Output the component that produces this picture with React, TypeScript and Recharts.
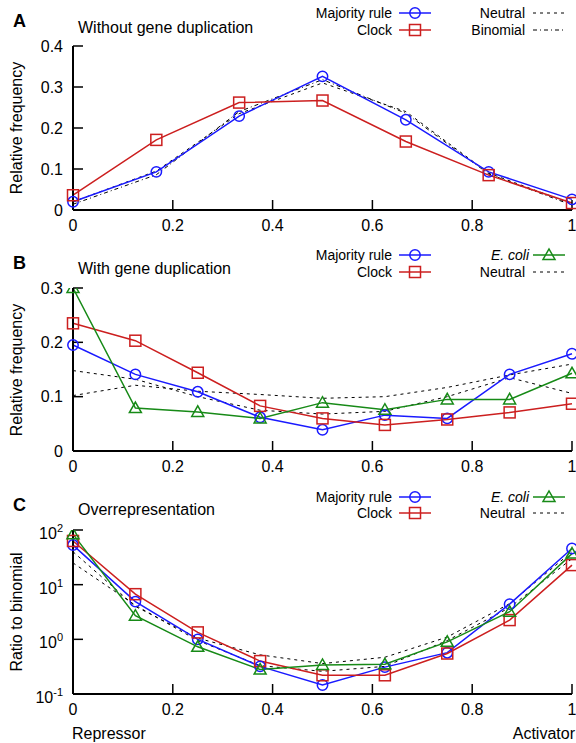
import React from 'react';
import { LineChart, Line, XAxis, YAxis } from 'recharts';

const FONT = 'Arial, "Liberation Sans", sans-serif';
const BLUE = '#1a1aff';
const RED = '#cc1f1f';
const GREEN = '#178a17';

// A: without gene duplication (fraction of activators, 6 inputs)
const fracA = [0, 0.167, 0.333, 0.5, 0.667, 0.833, 1];
const majorityA = [0.02, 0.093, 0.229, 0.326, 0.22, 0.093, 0.026];
const clockA = [0.036, 0.171, 0.262, 0.267, 0.167, 0.085, 0.017];
const neutralA = [0.02, 0.095, 0.235, 0.31, 0.24, 0.09, 0.015];
const binomialA = [0.014, 0.086, 0.24, 0.318, 0.236, 0.088, 0.012];

// B: with gene duplication (8 inputs)
const fracB = [0, 0.125, 0.25, 0.375, 0.5, 0.625, 0.75, 0.875, 1];
const majorityB = [0.195, 0.141, 0.109, 0.062, 0.039, 0.066, 0.06, 0.141, 0.179];
const clockB = [0.235, 0.203, 0.144, 0.083, 0.06, 0.048, 0.058, 0.071, 0.087];
const ecoliB = [0.3, 0.079, 0.072, 0.06, 0.089, 0.076, 0.095, 0.095, 0.143];
const neutralB1 = [0.148, 0.132, 0.1, 0.075, 0.068, 0.073, 0.1, 0.135, 0.106];
const neutralB2 = [0.102, 0.121, 0.11, 0.104, 0.097, 0.1, 0.117, 0.14, 0.16];

// C: ratio to binomial
const majorityC = [53, 4.9, 1.0, 0.32, 0.146, 0.31, 0.57, 4.4, 46];
const clockC = [63, 6.7, 1.34, 0.4, 0.22, 0.22, 0.55, 2.25, 22.8];
const ecoliC = [84, 2.7, 0.73, 0.28, 0.34, 0.35, 0.9, 3.2, 37];
const neutralC1 = [40, 4.0, 1.05, 0.52, 0.36, 0.47, 1.1, 4.5, 40];
const neutralC2 = [25, 4.2, 0.95, 0.33, 0.26, 0.32, 0.95, 3.8, 30];

const xTicks = [0, 0.2, 0.4, 0.6, 0.8, 1];
const yTicksA = [0, 0.1, 0.2, 0.3, 0.4];
const yTicksB = [0, 0.1, 0.2, 0.3];
const yTicksC = [0.1, 1, 10, 100];
const expLabelsC = ['-1', '0', '1', '2'];

const dataA = fracA.map((x, i) => ({
  x, majority: majorityA[i], clock: clockA[i], neutral: neutralA[i], binomial: binomialA[i],
}));
const dataB = fracB.map((x, i) => ({
  x, majority: majorityB[i], clock: clockB[i], ecoli: ecoliB[i], n1: neutralB1[i], n2: neutralB2[i],
}));
const dataC = fracB.map((x, i) => ({
  x, majority: majorityC[i], clock: clockC[i], ecoli: ecoliC[i], n1: neutralC1[i], n2: neutralC2[i],
}));

const Dot = ({ cx, cy, color, shape }: any) => {
  if (cx == null || cy == null) return null;
  if (shape === 'circle') {
    return <circle cx={cx} cy={cy} r={5.2} fill="none" stroke={color} strokeWidth={1.5} />;
  }
  if (shape === 'square') {
    return <rect x={cx - 5.5} y={cy - 5.5} width={11} height={11} fill="none" stroke={color} strokeWidth={1.5} />;
  }
  return (
    <polygon
      points={`${cx - 6},${cy + 4.5} ${cx + 6},${cy + 4.5} ${cx},${cy - 6}`}
      fill="none"
      stroke={color}
      strokeWidth={1.5}
    />
  );
};

const dotOf = (color: string, shape: string) => (p: any) =>
  <Dot key={p.index} cx={p.cx} cy={p.cy} color={color} shape={shape} />;

// legend entry: text right-aligned at tx, sample from sx
const Key = ({ tx, sx, y, label, color, shape, dash, italic }: any) => (
  <g>
    <text x={tx} y={y} textAnchor="end" fontSize={14} fontStyle={italic ? 'italic' : 'normal'} fill="#000">
      {label}
    </text>
    <line x1={sx} x2={sx + 32} y1={y - 5} y2={y - 5} stroke={color} strokeWidth={dash ? 1 : 1.5} strokeDasharray={dash} />
    {shape && <Dot cx={sx + 16} cy={y - 5} color={color} shape={shape} />}
  </g>
);

const LogTick = ({ x, y, payload }: any) => {
  const i = yTicksC.indexOf(payload.value);
  return (
    <text x={x} y={y + 9} textAnchor="end" fontSize={16} fill="#000">
      10<tspan dy={-7} fontSize={11}>{expLabelsC[i]}</tspan>
    </text>
  );
};

const axisLine = { stroke: '#000', strokeWidth: 2 };
const tickLine = { stroke: '#000', strokeWidth: 1.5 };
const tickText = { fill: '#000', fontSize: 16 };

const Frame = ({ domain, ticks, rightTicks, xHeight, scale, logTick }: any) => [
  <XAxis key="xb" dataKey="x" type="number" domain={[0, 1]} ticks={xTicks} height={xHeight}
    tickSize={-10} tickMargin={20} axisLine={axisLine} tickLine={tickLine} tick={tickText} />,
  <XAxis key="xt" xAxisId="top" orientation="top" dataKey="x" type="number" domain={[0, 1]} height={0}
    tick={false} tickLine={false} axisLine={axisLine} />,
  <YAxis key="yl" domain={domain} ticks={ticks} width={73} scale={scale || 'auto'} allowDataOverflow
    tickSize={-10} tickMargin={20} axisLine={axisLine} tickLine={tickLine} tick={logTick ? <LogTick /> : tickText} />,
  <YAxis key="yr" yAxisId="right" orientation="right" domain={domain} ticks={rightTicks} width={0}
    scale={scale || 'auto'} tickSize={-10} tick={false} axisLine={axisLine} tickLine={tickLine} />,
];

const dashN = '3 4';
const dashB = '4 3 1 3';

export default function App() {
  return (
    <div style={{ position: 'absolute', left: 0, top: 0, width: 576, height: 743, background: '#fff', fontFamily: FONT }}>
      <div style={{ position: 'absolute', left: 0, top: 0 }}>
        <LineChart width={576} height={240} data={dataA} margin={{ top: 46, right: 4, bottom: 0, left: 0 }}>
          {Frame({ domain: [0, 0.4], ticks: yTicksA, rightTicks: [0.1, 0.2, 0.3], xHeight: 30 })}
          <Line dataKey="neutral" stroke="#000" strokeWidth={1} strokeDasharray={dashN} dot={false} isAnimationActive={false} />
          <Line dataKey="binomial" stroke="#000" strokeWidth={1} strokeDasharray={dashB} dot={false} isAnimationActive={false} />
          <Line dataKey="majority" stroke={BLUE} strokeWidth={1.5} dot={dotOf(BLUE, 'circle')} isAnimationActive={false} />
          <Line dataKey="clock" stroke={RED} strokeWidth={1.5} dot={dotOf(RED, 'square')} isAnimationActive={false} />
          <text x={13} y={27} fontSize={18} fontWeight="bold" fill="#000">A</text>
          <text x={78} y={33} fontSize={16} fill="#000">Without gene duplication</text>
          <text transform="translate(22,128) rotate(-90)" textAnchor="middle" fontSize={16} fill="#000">Relative frequency</text>
          <Key tx={392} sx={399} y={18} label="Majority rule" color={BLUE} shape="circle" />
          <Key tx={392} sx={399} y={35} label="Clock" color={RED} shape="square" />
          <Key tx={525} sx={533} y={18} label="Neutral" color="#000" dash={dashN} />
          <Key tx={525} sx={533} y={35} label="Binomial" color="#000" dash={dashB} />
        </LineChart>
      </div>
      <div style={{ position: 'absolute', left: 0, top: 240 }}>
        <LineChart width={576} height={240} data={dataB} margin={{ top: 48, right: 4, bottom: 0, left: 0 }}>
          {Frame({ domain: [0, 0.3], ticks: yTicksB, rightTicks: [0.1, 0.2], xHeight: 29 })}
          <Line dataKey="n1" stroke="#000" strokeWidth={1} strokeDasharray={dashN} dot={false} isAnimationActive={false} />
          <Line dataKey="n2" stroke="#000" strokeWidth={1} strokeDasharray={dashN} dot={false} isAnimationActive={false} />
          <Line dataKey="majority" stroke={BLUE} strokeWidth={1.5} dot={dotOf(BLUE, 'circle')} isAnimationActive={false} />
          <Line dataKey="clock" stroke={RED} strokeWidth={1.5} dot={dotOf(RED, 'square')} isAnimationActive={false} />
          <Line dataKey="ecoli" stroke={GREEN} strokeWidth={1.5} dot={dotOf(GREEN, 'triangle')} isAnimationActive={false} />
          <text x={13} y={29} fontSize={18} fontWeight="bold" fill="#000">B</text>
          <text x={78} y={34} fontSize={16} fill="#000">With gene duplication</text>
          <text transform="translate(22,130) rotate(-90)" textAnchor="middle" fontSize={16} fill="#000">Relative frequency</text>
          <Key tx={392} sx={399} y={20} label="Majority rule" color={BLUE} shape="circle" />
          <Key tx={392} sx={399} y={37} label="Clock" color={RED} shape="square" />
          <Key tx={529} sx={533} y={20} label="E. coli" italic color={GREEN} shape="triangle" />
          <Key tx={525} sx={533} y={37} label="Neutral" color="#000" dash={dashN} />
        </LineChart>
      </div>
      <div style={{ position: 'absolute', left: 0, top: 480 }}>
        <LineChart width={576} height={263} data={dataC} margin={{ top: 50, right: 4, bottom: 0, left: 0 }}>
          {Frame({ domain: [0.1, 100], ticks: yTicksC, rightTicks: [1, 10], xHeight: 49, scale: 'log', logTick: true })}
          <Line dataKey="n1" stroke="#000" strokeWidth={1} strokeDasharray={dashN} dot={false} isAnimationActive={false} />
          <Line dataKey="n2" stroke="#000" strokeWidth={1} strokeDasharray={dashN} dot={false} isAnimationActive={false} />
          <Line dataKey="majority" stroke={BLUE} strokeWidth={1.5} dot={dotOf(BLUE, 'circle')} isAnimationActive={false} />
          <Line dataKey="clock" stroke={RED} strokeWidth={1.5} dot={dotOf(RED, 'square')} isAnimationActive={false} />
          <Line dataKey="ecoli" stroke={GREEN} strokeWidth={1.5} dot={dotOf(GREEN, 'triangle')} isAnimationActive={false} />
          <text x={13} y={31} fontSize={18} fontWeight="bold" fill="#000">C</text>
          <text x={78} y={35} fontSize={16} fill="#000">Overrepresentation</text>
          <text transform="translate(22,132) rotate(-90)" textAnchor="middle" fontSize={16} fill="#000">Ratio to binomial</text>
          <Key tx={392} sx={399} y={22} label="Majority rule" color={BLUE} shape="circle" />
          <Key tx={392} sx={399} y={38} label="Clock" color={RED} shape="square" />
          <Key tx={529} sx={533} y={22} label="E. coli" italic color={GREEN} shape="triangle" />
          <Key tx={525} sx={533} y={38} label="Neutral" color="#000" dash={dashN} />
          <text x={72} y={259} fontSize={16} fill="#000">Repressor</text>
          <text x={575} y={259} textAnchor="end" fontSize={16} fill="#000">Activator</text>
        </LineChart>
      </div>
    </div>
  );
}
